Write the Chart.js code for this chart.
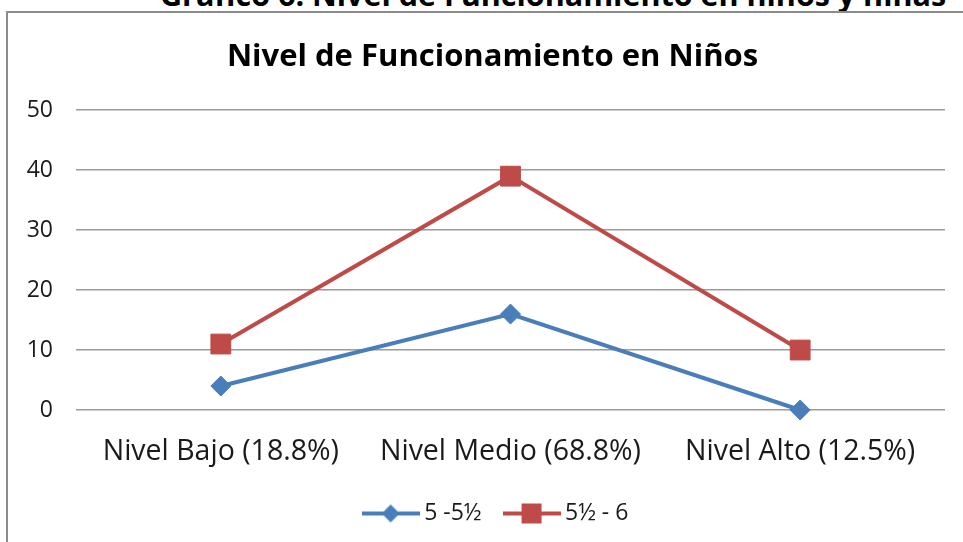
<!DOCTYPE html>
<html>
<head>
<meta charset="utf-8">
<script src="https://cdn.jsdelivr.net/npm/chart.js@4/dist/chart.umd.min.js"></script>
<style>
html,body{margin:0;padding:0;background:#fff;overflow:hidden;width:963px;height:542px;}
#marco{position:absolute;left:6px;top:11px;width:1000px;height:600px;border:2px solid #8c8c8c;}
#encabezado{position:absolute;left:160px;top:-21px;font:bold 30.5px/31px 'Open Sans';white-space:nowrap;color:#000;}
#grafica{position:absolute;left:0;top:0;}
</style>
</head>
<body>
<div id="encabezado">Gráfico 6: Nivel de Funcionamiento en niños y niñas</div>
<div id="marco"></div>
<canvas id="grafica" width="963" height="542"></canvas>
<script>
//Datos de la gráfica
const categorias=['Nivel Bajo (18.8%)','Nivel Medio (68.8%)','Nivel Alto (12.5%)'];
const serieMenor=[4,16,0];
const serieMayor=[11,39,10];
const etiquetasSeries=['5 -5½','5½ - 6'];
const ticksY=[0,10,20,30,40,50];

const azul='#4A7EBB';
const rojo='#BE4B48';

//Iconos de la leyenda (linea con marcador)
function iconoLeyenda(color,forma){
    const c=document.createElement('canvas');
    c.width=58; c.height=24;
    const g=c.getContext('2d');
    g.strokeStyle=color; g.lineWidth=4;
    g.beginPath(); g.moveTo(0,12); g.lineTo(58,12); g.stroke();
    g.fillStyle=color;
    if(forma==='rombo'){
        g.beginPath(); g.moveTo(29,3); g.lineTo(38,12); g.lineTo(29,21); g.lineTo(20,12); g.closePath(); g.fill();
    }else{
        g.fillRect(19,2,20,20);
    }
    return c;
}
const iconos=[iconoLeyenda(azul,'rombo'),iconoLeyenda(rojo,'cuadro')];

//Titulo y leyenda centrados sobre el marco, no sobre todo el lienzo
const centrarBloques={
    id:'centrarBloques',
    afterLayout(chart){
        chart.titleBlock.left=40;
        chart.legend.left=52;
    }
};

const ctx=document.getElementById('grafica');

new Chart(ctx,{
    type:'line',
    data:{
        labels:categorias,
        datasets:[
            {
                label:etiquetasSeries[0],
                data:serieMenor,
                borderColor:azul,
                backgroundColor:azul,
                borderWidth:4,
                pointStyle:'rectRot',
                pointRadius:10,
                pointBorderWidth:1,
                tension:0,
                clip:false
            },
            {
                label:etiquetasSeries[1],
                data:serieMayor,
                borderColor:rojo,
                backgroundColor:rojo,
                borderWidth:4,
                pointStyle:'rect',
                pointRadius:14,
                pointBorderWidth:1,
                tension:0,
                clip:false
            }
        ]
    },
    options:{
        responsive:false,
        animation:false,
        devicePixelRatio:1,
        layout:{padding:{left:0,right:18,top:0,bottom:7}},
        scales:{
            x:{
                offset:true,
                grid:{display:false},
                border:{display:false},
                ticks:{padding:17,color:'#1a1a1a',font:{family:'Open Sans',size:28.5}},
                afterFit:(s)=>{s.height=64}
            },
            y:{
                min:ticksY[0],
                max:ticksY[ticksY.length-1],
                ticks:{stepSize:ticksY[1]-ticksY[0],padding:23,color:'#1a1a1a',font:{family:'Open Sans',size:23}},
                grid:{color:'#9a9a9a',lineWidth:1.5,drawTicks:false},
                border:{display:false},
                afterFit:(s)=>{s.width=76}
            }
        },
        plugins:{
            title:{
                display:true,
                text:'Nivel de Funcionamiento en Niños',
                color:'#000',
                font:{family:'Open Sans',size:31,weight:'bold'},
                padding:{top:39,bottom:34}
            },
            legend:{
                position:'bottom',
                labels:{
                    usePointStyle:true,
                    pointStyleWidth:44,
                    padding:28,
                    color:'#1a1a1a',
                    font:{family:'Open Sans',size:23},
                    generateLabels:(chart)=>{
                        const lista=Chart.defaults.plugins.legend.labels.generateLabels(chart);
                        lista.forEach((l,i)=>{l.pointStyle=iconos[i]});
                        return lista;
                    }
                }
            },
            tooltip:{enabled:false}
        }
    },
    plugins:[centrarBloques]
});
</script>
</body>
</html>
